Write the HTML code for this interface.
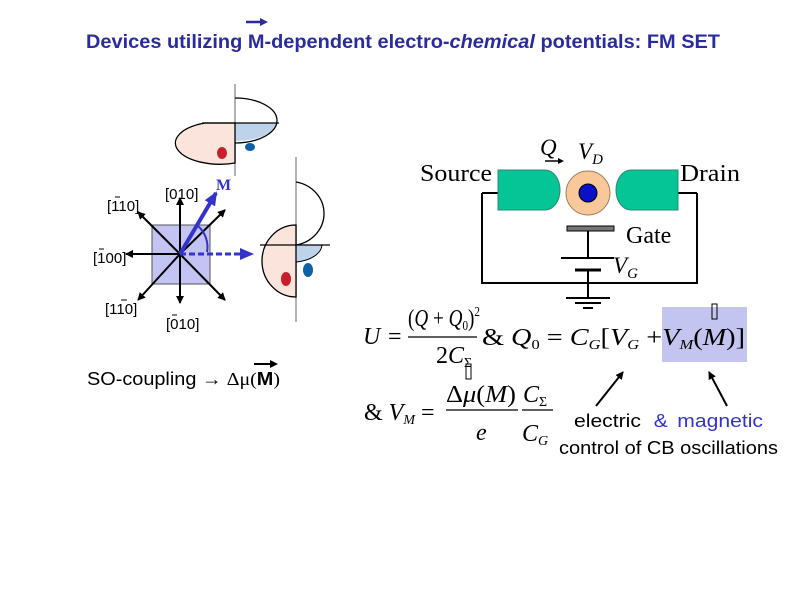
<!DOCTYPE html>
<html><head><meta charset="utf-8"><style>
html,body{margin:0;padding:0;background:#fff;width:794px;height:595px;overflow:hidden}
svg{display:block}
.t{font-family:"Liberation Serif",serif}
.s{font-family:"Liberation Sans",sans-serif}
</style></head><body>
<svg width="794" height="595" viewBox="0 0 794 595" xmlns="http://www.w3.org/2000/svg">
<defs>
<marker id="ah" markerWidth="8" markerHeight="8" refX="7" refY="4" orient="auto" markerUnits="userSpaceOnUse"><path d="M0,0 L8,4 L0,8 z" fill="#000"/></marker>
<marker id="ab" markerWidth="14" markerHeight="12" refX="12" refY="6" orient="auto" markerUnits="userSpaceOnUse"><path d="M0,0 L14,6 L0,12 z" fill="#3333cc"/></marker>
</defs>
<!-- title -->
<text x="86" y="48" class="s" font-size="19" font-weight="bold" fill="#2b2ba0" textLength="634" lengthAdjust="spacingAndGlyphs">Devices utilizing M-dependent electro-<tspan font-style="italic">chemical</tspan> potentials: FM SET</text>
<line x1="246" y1="22" x2="262" y2="22" stroke="#2b2ba0" stroke-width="2.5"/>
<path d="M260,18 L268,22 L260,26z" fill="#2b2ba0"/>

<!-- upper DOS -->
<line x1="235" y1="84" x2="235" y2="176" stroke="#999" stroke-width="1.5"/>
<path d="M235,123 L277,123 A42,20 0 0 1 235,141 Z" fill="#bcd3ea"/>
<path d="M235,98 A42,22.5 0 0 1 235,143" fill="none" stroke="#000" stroke-width="1.3"/>
<path d="M235,123 L205,123 A42,20 0 0 0 235,163 Z" fill="#fbe4dc" stroke="#000" stroke-width="1.3"/>
<line x1="202" y1="123" x2="279" y2="123" stroke="#000" stroke-width="1.3"/>
<ellipse cx="222" cy="153" rx="5" ry="6" fill="#c8202a"/>
<ellipse cx="250" cy="147" rx="5" ry="4" fill="#1060a8"/>

<!-- lower DOS -->
<line x1="296" y1="157" x2="296" y2="322" stroke="#999" stroke-width="1.5"/>
<path d="M296,182 A34,32 0 0 1 296,245" fill="none" stroke="#000" stroke-width="1.3"/>
<path d="M296,245 L322,245 A30,18 0 0 1 296,262 Z" fill="#bcd3ea" stroke="#000" stroke-width="1"/>
<path d="M296,225 A34,36 0 0 0 296,297 Z" fill="#fbe4dc" stroke="#000" stroke-width="1.3"/>
<line x1="260" y1="245" x2="330" y2="245" stroke="#000" stroke-width="1.3"/>
<ellipse cx="286" cy="279" rx="5" ry="7" fill="#c8202a"/>
<ellipse cx="308" cy="270" rx="5" ry="7" fill="#1060a8"/>

<!-- crystal axes -->
<rect x="152" y="225" width="58" height="59" fill="#c4c4f4" stroke="#555" stroke-width="1"/>
<g stroke="#000" stroke-width="2" marker-end="url(#ah)">
<line x1="180" y1="254" x2="180" y2="198"/>
<line x1="180" y1="254" x2="180" y2="303"/>
<line x1="180" y1="254" x2="126" y2="254"/>
<line x1="180" y1="254" x2="138" y2="212"/>
<line x1="180" y1="254" x2="225" y2="210"/>
<line x1="180" y1="254" x2="225" y2="300"/>
<line x1="180" y1="254" x2="138" y2="300"/>
</g>
<line x1="180" y1="254" x2="216" y2="193" stroke="#3333cc" stroke-width="4" marker-end="url(#ab)"/>
<line x1="180" y1="254" x2="252" y2="254" stroke="#3333cc" stroke-width="3" stroke-dasharray="6,3" marker-end="url(#ab)"/>
<path d="M198,226 A28,28 0 0 1 207,252" fill="none" stroke="#3333cc" stroke-width="2"/>
<text x="216" y="190" class="t" font-size="16" font-weight="bold" fill="#3333cc">M</text>
<g class="s" font-size="15" fill="#000">
<text x="107" y="211">[110]</text><line x1="115" y1="197" x2="120" y2="197" stroke="#000"/>
<text x="165" y="199">[010]</text>
<text x="93" y="263">[100]</text><line x1="99" y1="249" x2="104" y2="249" stroke="#000"/>
<text x="105" y="314">[110]</text><line x1="121" y1="300" x2="127" y2="300" stroke="#000"/>
<text x="166" y="329">[010]</text><line x1="172" y1="315" x2="177" y2="315" stroke="#000"/>
</g>

<!-- SO-coupling -->
<text x="87" y="385" class="s" font-size="18" textLength="193" lengthAdjust="spacingAndGlyphs">SO-coupling <tspan class="t">→ Δμ(</tspan><tspan font-weight="bold">M</tspan><tspan class="t">)</tspan></text>
<line x1="254" y1="364" x2="272" y2="364" stroke="#000" stroke-width="2"/>
<path d="M270,360 L278,364 L270,368z" fill="#000"/>

<!-- circuit -->
<path d="M482,193 L482,283 L697,283 L697,193" fill="none" stroke="#000" stroke-width="2"/>
<line x1="482" y1="193" x2="498" y2="193" stroke="#000" stroke-width="2"/>
<line x1="678" y1="193" x2="697" y2="193" stroke="#000" stroke-width="2"/>
<path d="M498,170 L545,170 A15,20 0 0 1 545,210 L498,210 Z" fill="#05c495" stroke="#2a8a70" stroke-width="1"/>
<path d="M678,170 L631,170 A15,20 0 0 0 631,210 L678,210 Z" fill="#05c495" stroke="#2a8a70" stroke-width="1"/>
<circle cx="588" cy="193" r="22" fill="#f9c89a" stroke="#a08060" stroke-width="1"/>
<circle cx="588" cy="193" r="9" fill="#0a10c8" stroke="#000" stroke-width="1"/>
<rect x="567" y="226" width="47" height="5" fill="#777" stroke="#000" stroke-width="1"/>
<line x1="588" y1="231" x2="588" y2="258" stroke="#000" stroke-width="2"/>
<line x1="561" y1="258" x2="614" y2="258" stroke="#000" stroke-width="2"/>
<line x1="575" y1="270" x2="601" y2="270" stroke="#000" stroke-width="3"/>
<line x1="588" y1="270" x2="588" y2="298" stroke="#000" stroke-width="2"/>
<line x1="566" y1="298" x2="610" y2="298" stroke="#000" stroke-width="2"/>
<line x1="575" y1="303" x2="601" y2="303" stroke="#000" stroke-width="2"/>
<line x1="583" y1="308" x2="593" y2="308" stroke="#000" stroke-width="2"/>
<g class="t" fill="#000">
<text x="420" y="181" font-size="24" textLength="72" lengthAdjust="spacingAndGlyphs">Source</text>
<text x="680" y="181" font-size="24" textLength="60" lengthAdjust="spacingAndGlyphs">Drain</text>
<text x="626" y="243" font-size="24">Gate</text>
<text x="540" y="155" font-size="23" font-style="italic">Q</text>
<text x="578" y="159" font-size="23" font-style="italic">V<tspan font-size="15" dy="5">D</tspan></text>
<text x="613" y="273" font-size="23" font-style="italic">V<tspan font-size="15" dy="5">G</tspan></text>
</g>
<line x1="545" y1="161" x2="560" y2="161" stroke="#000" stroke-width="1.5"/>
<path d="M558,158 L564,161 L558,164z" fill="#000"/>

<!-- equations -->
<rect x="662" y="307" width="85" height="55" fill="#c4c4f0"/>
<g class="t" font-size="24" fill="#000">
<text x="363" y="344" font-style="italic">U</text>
<text x="388" y="344">=</text>
<text x="408" y="326" textLength="72" lengthAdjust="spacingAndGlyphs">(<tspan font-style="italic">Q</tspan> + <tspan font-style="italic">Q</tspan><tspan font-size="14" dy="4">0</tspan><tspan dy="-4">)</tspan><tspan font-size="14" dy="-10">2</tspan></text>
<line x1="408" y1="337" x2="477" y2="337" stroke="#000" stroke-width="1.3"/>
<text x="436" y="363">2<tspan font-style="italic">C</tspan><tspan font-size="14" dy="4">Σ</tspan></text>
<text x="482" y="345" textLength="263" lengthAdjust="spacingAndGlyphs">&amp; <tspan font-style="italic">Q</tspan><tspan font-size="14" dy="4">0</tspan><tspan dy="-4"> = </tspan><tspan font-style="italic">C</tspan><tspan font-size="14" dy="4" font-style="italic">G</tspan><tspan dy="-4">[</tspan><tspan font-style="italic">V</tspan><tspan font-size="14" dy="4" font-style="italic">G</tspan><tspan dy="-4"> +</tspan><tspan font-style="italic">V</tspan><tspan font-size="14" dy="4" font-style="italic">M</tspan><tspan dy="-4">(</tspan><tspan font-style="italic">M</tspan>)]</text>
<text x="364" y="420">&amp; <tspan font-style="italic">V</tspan><tspan font-size="14" dy="4" font-style="italic">M</tspan><tspan dy="-4"> =</tspan></text>
<text x="446" y="402" textLength="70" lengthAdjust="spacingAndGlyphs">Δ<tspan font-style="italic">μ</tspan>(<tspan font-style="italic">M</tspan>)</text>
<line x1="446" y1="410" x2="518" y2="410" stroke="#000" stroke-width="1.3"/>
<text x="476" y="440" font-style="italic">e</text>
<text x="523" y="402" font-style="italic">C<tspan font-size="14" dy="4" font-style="normal">Σ</tspan></text>
<line x1="522" y1="410" x2="553" y2="410" stroke="#000" stroke-width="1.3"/>
<text x="522" y="441" font-style="italic">C<tspan font-size="14" dy="4">G</tspan></text>
</g>
<rect x="466" y="364" width="5" height="15" fill="none" stroke="#000" stroke-width="1"/>
<rect x="712" y="304" width="5" height="15" fill="none" stroke="#000" stroke-width="1"/>

<line x1="596" y1="406" x2="623" y2="372" stroke="#000" stroke-width="2" marker-end="url(#ah)"/>
<line x1="727" y1="406" x2="709" y2="372" stroke="#000" stroke-width="2" marker-end="url(#ah)"/>
<text x="574" y="427" class="s" font-size="18" textLength="189" lengthAdjust="spacingAndGlyphs">electric <tspan fill="#3333cc" dx="6">&amp;</tspan><tspan fill="#3333cc" dx="8">magnetic</tspan></text>
<text x="559" y="454" class="s" font-size="18" textLength="219" lengthAdjust="spacingAndGlyphs">control of CB oscillations</text>
</svg>
</body></html>
